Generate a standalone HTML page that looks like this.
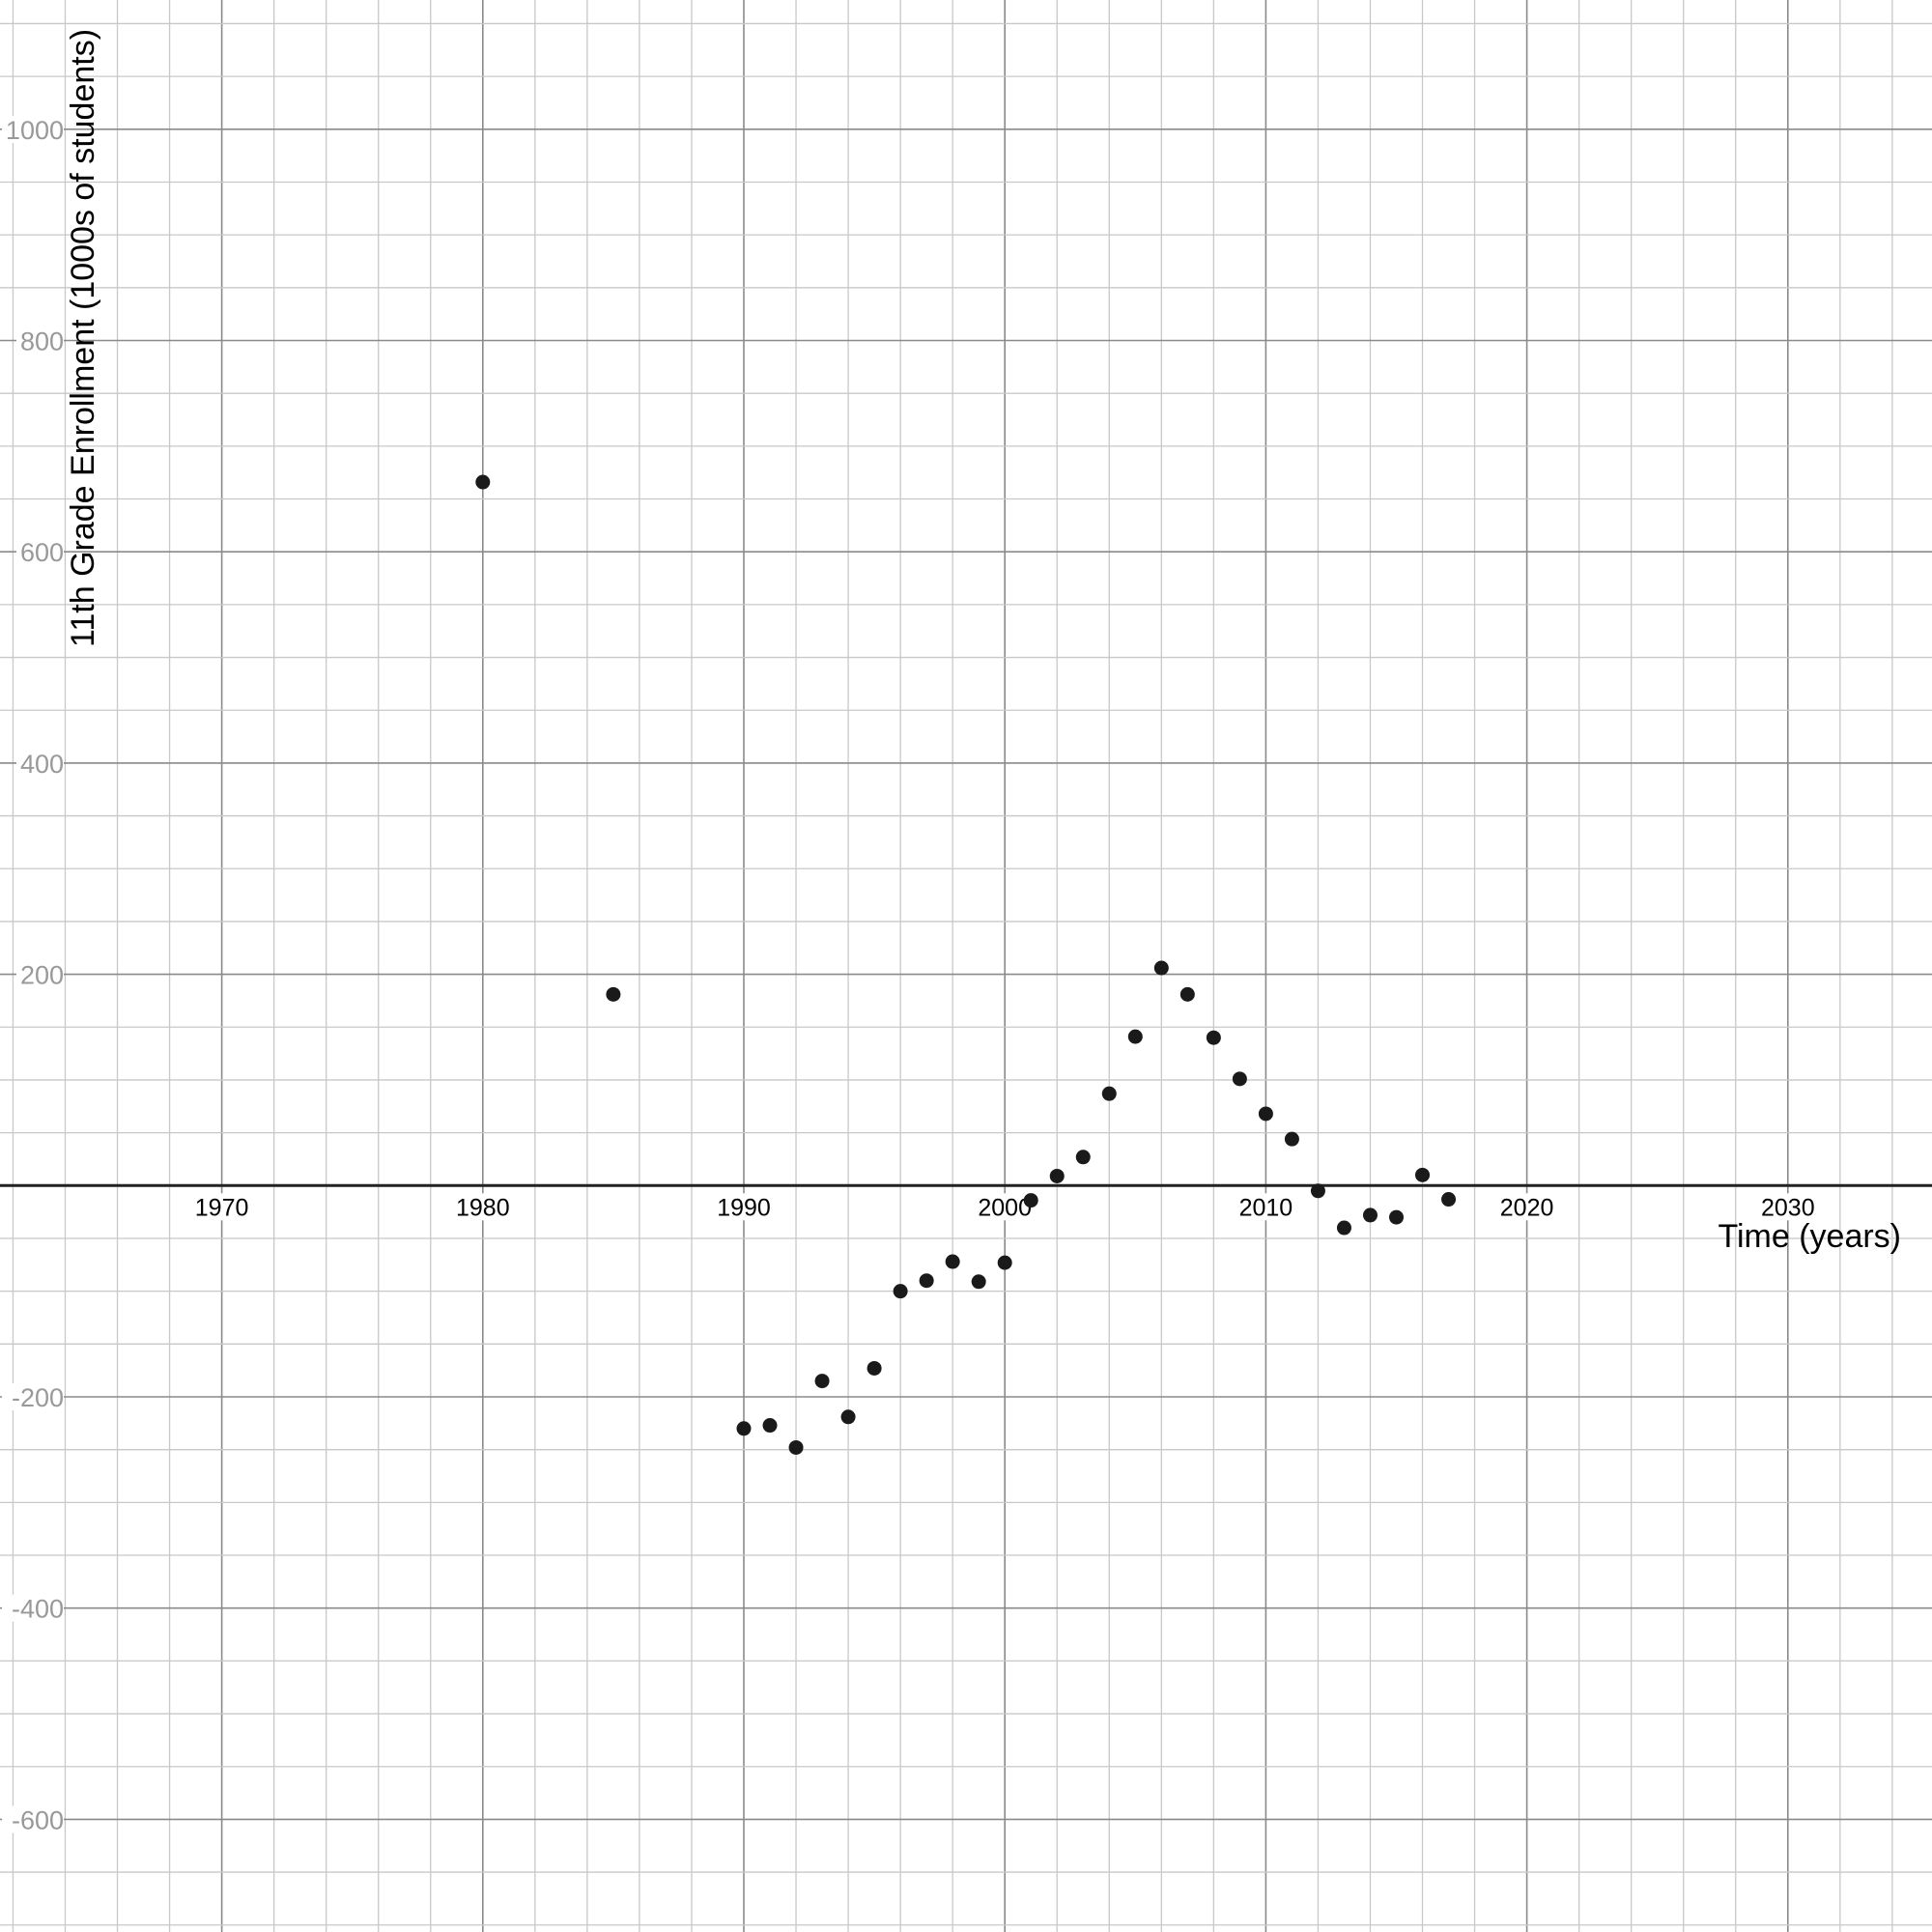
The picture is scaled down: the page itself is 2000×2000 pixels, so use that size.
<!DOCTYPE html>
<html><head><meta charset="utf-8"><style>
html,body{margin:0;padding:0;background:#fff;}
svg{display:block;}
text{font-family:"Liberation Sans",sans-serif;}
</style></head><body>
<svg id="chart" width="2000" height="2000" xmlns="http://www.w3.org/2000/svg"></svg>
<script>
const years=[1980,1985,1990,1991,1992,1993,1994,1995,1996,1997,1998,1999,2000,2001,2002,2003,2004,2005,2006,2007,2008,2009,2010,2011,2012,2013,2014,2015,2016,2017];
const values=[666,181,-230,-227,-248,-185,-219,-173,-100,-90,-72,-91,-73,-14,9,27,87,141,206,181,140,101,68,44,-5,-40,-28,-30,10,-13];
const xTickLabels=[1970,1980,1990,2000,2010,2020,2030];
const yTickLabels=[-600,-400,-200,200,400,600,800,1000];

const NS="http://www.w3.org/2000/svg";
const svg=document.getElementById('chart');
const X0=229.6, PXY=27.02; // px per year
const Y0=1227.3, PXV=1.0935; // px per unit
function sx(v){return X0+(v-1970)*PXY;}
function sy(v){return Y0-v*PXV;}
function mk(tag,attrs,parent){const e=document.createElementNS(NS,tag);for(const k in attrs)e.setAttribute(k,attrs[k]);(parent||svg).appendChild(e);return e;}

const grid=mk('g',{});


for(let yr=1960;yr<=2040;yr+=2){
  const x=sx(yr); if(x<0||x>2000)continue;
  const major=yr%10===0;
  mk('line',{x1:x,x2:x,y1:0,y2:2000,stroke:major?'#8a8a8a':'#c8c8c8','stroke-width':major?1.6:1.3},grid);
}
for(let v=-800;v<=1200;v+=50){
  const y=sy(v); if(y<0||y>2000||v===0)continue;
  const major=v%200===0;
  mk('line',{x1:0,x2:2000,y1:y,y2:y,stroke:major?'#8a8a8a':'#c8c8c8','stroke-width':major?1.6:1.3},grid);
}
const ax=mk('line',{x1:0,x2:2000,y1:Y0,y2:Y0,stroke:'#222','stroke-width':3});



xTickLabels.forEach(t=>{
  const x=sx(t);
  mk('rect',{x:x-32,y:Y0+8,width:64,height:28,fill:'#fff'});
  const e=mk('text',{x:x,y:Y0+31,'text-anchor':'middle','font-size':25,fill:'#000'});
  e.textContent=t;
  
  
});
yTickLabels.forEach(t=>{
  const y=sy(t);
  const w=String(t).length*15+4;
  mk('rect',{x:66-w,y:y-14,width:w,height:28,fill:'#fff'});
  const e=mk('text',{x:66,y:y+10,'text-anchor':'end','font-size':27,fill:'#999'});
  e.textContent=t;
  
  
});

const yt=mk('text',{x:0,y:0,'font-size':34,fill:'#000',transform:'translate(97,670) rotate(-90)'});
yt.textContent='11th Grade Enrollment (1000s of students)';


const xt=mk('text',{x:1968,y:1291,'text-anchor':'end','font-size':34,fill:'#000'});
xt.textContent='Time (years)';



const pts=mk('g',{});


years.forEach((yr,i)=>{
  const c=mk('circle',{cx:sx(yr),cy:sy(values[i]),r:7.5,fill:'#1a1a1a'},pts);
  
  
});
</script>
</body></html>
